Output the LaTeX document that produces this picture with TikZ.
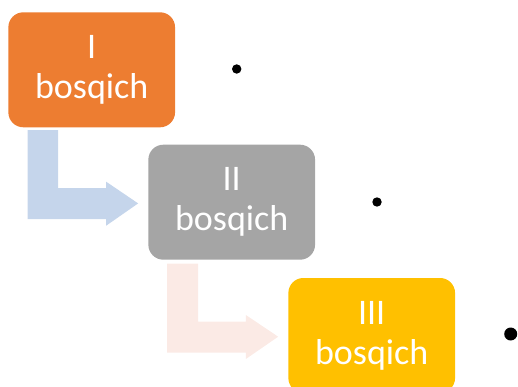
\documentclass[tikz,border=0pt]{standalone}
\usepackage{fontspec}
\setmainfont{Carlito}
\usetikzlibrary{calc}

\definecolor{stageorange}{HTML}{ED7D31}
\definecolor{stagegrey}{HTML}{A5A5A5}
\definecolor{stagegold}{HTML}{FFC000}
\definecolor{arrowblue}{HTML}{C5D5EB}
\definecolor{arrowpink}{HTML}{FBEAE5}

\begin{document}
\begin{tikzpicture}[x=1pt,y=-1pt,
  stage/.style={rounded corners=15pt, minimum width=166.7pt, minimum height=115pt,
    inner sep=0pt, text=white, align=center, font=\fontsize{36}{40}\selectfont,
    execute at begin node={\rule{0pt}{28pt}}},
  dot/.style={circle, fill=black, inner sep=0pt}]
\useasboundingbox (0,0) rectangle (518,387);

\node[stage, fill=stageorange] (I) at (91.7,69.8) {I\\bosqich};

\node[stage, fill=stagegrey] (II) at (231.7,202.2) {II\\bosqich};

\node[stage, fill=stagegold] (III) at (371.7,335.5) {III\\bosqich};

\node[dot, minimum size=9.4pt] (d1) at (236.7,69) {};
\node[dot, minimum size=9.4pt] (d2) at (377,202) {};
\node[dot, minimum size=13pt] (d3) at (510.7,334) {};

\fill[arrowblue] ($(I.south west)+(19.5,2.7)$) coordinate (a1) -- ++(30.5,0)
  |- ($(II.west)+(-42,-14)$) -- ++(0,-6.5) -- ($(II.west)+(-10,1.2)$)
  -- ($(II.west)+(-42,23.5)$) -- ++(0,-6.5) -- ($(a1 |- II.west)+(0,17)$) -- cycle;

\fill[arrowpink] ($(II.south west)+(19,3.6)$) coordinate (a2) -- ++(31,0)
  |- ($(III.west)+(-42.3,-14)$) -- ++(0,-6.5) -- ($(III.west)+(-10,1.2)$)
  -- ($(III.west)+(-42.3,23.5)$) -- ++(0,-6.5) -- ($(a2 |- III.west)+(0,17)$) -- cycle;

\end{tikzpicture}
\end{document}
